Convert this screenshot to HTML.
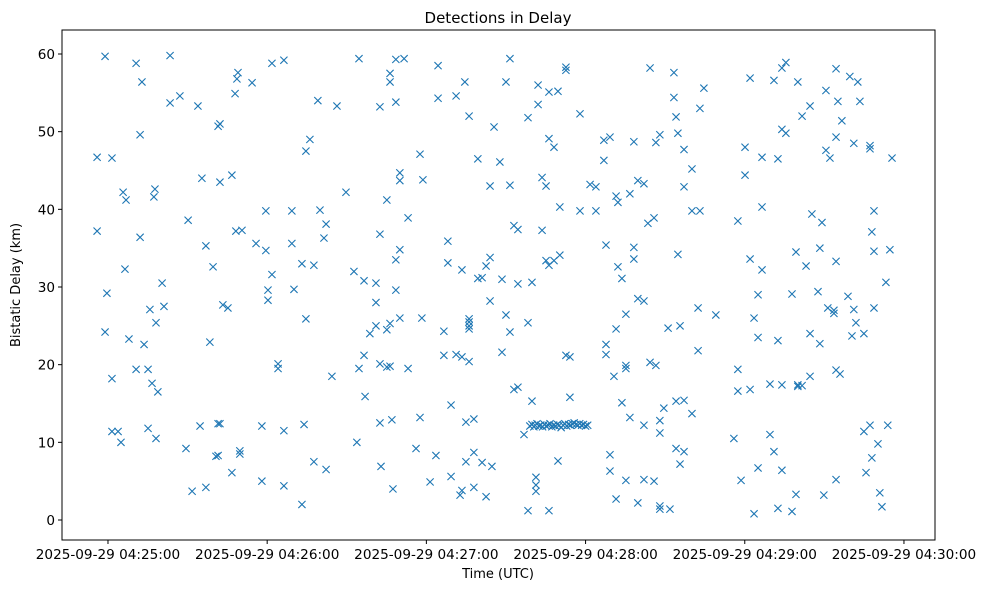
<!DOCTYPE html>
<html><head><meta charset="utf-8"><style>
body{margin:0;background:#fff;}
svg text{font-family:"DejaVu Sans","Liberation Sans",sans-serif;fill:#000;}
</style></head><body>
<svg id="chart" width="986" height="590" xmlns="http://www.w3.org/2000/svg">
<text x="498" y="23" font-size="15" text-anchor="middle">Detections in Delay</text>
<rect x="62" y="30" width="873" height="510" fill="none" stroke="#000" stroke-width="1"/>
<g id="marks"></g>
<g id="xaxis"></g>
<g id="yaxis"></g>
<text x="498" y="578" font-size="13" text-anchor="middle">Time (UTC)</text>
<text transform="translate(20,285) rotate(-90)" font-size="13" text-anchor="middle">Bistatic Delay (km)</text>
</svg>
<script>
// seconds after 2025-09-29 04:25:00 UTC
const times = [-4.1,-4.1,-1.1,-1.1,-0.4,1.5,1.5,1.5,3.8,4.9,5.7,6.8,6.4,7.9,10.6,10.6,12.1,12.1,12.8,13.6,15.1,15.1,15.8,16.6,17.3,17.7,18.1,18.1,18.8,20.4,21.1,23.4,23.4,27.1,29.4,30.2,31.7,33.9,34.7,35.4,36.9,36.9,38.4,39.6,40.7,41.5,41.5,42.2,42.2,41.5,42.2,43.3,45.2,46.7,46.7,47.9,48.2,48.6,49.0,49.7,49.7,50.5,54.3,55.8,58.0,58.0,59.5,59.5,60.3,60.3,61.8,61.8,64.1,64.1,66.3,66.3,66.3,69.3,69.3,70.1,73.1,73.1,73.9,74.6,74.6,76.1,77.6,77.6,79.1,79.9,81.4,82.2,82.2,84.4,86.3,89.7,92.7,93.8,94.6,94.6,96.5,96.5,96.9,98.7,101.0,101.0,101.0,102.5,102.5,102.5,102.9,102.5,105.1,105.1,105.1,106.3,106.3,106.3,106.3,107.0,107.4,108.5,108.5,108.5,108.5,110.0,110.0,110.0,110.0,111.6,113.1,113.1,116.1,117.6,117.6,118.7,118.3,121.4,123.6,124.4,124.4,126.6,126.6,128.1,128.1,129.3,129.3,131.2,131.2,132.7,133.4,133.4,134.5,133.4,134.9,134.9,136.1,136.1,136.1,136.1,136.1,136.1,137.9,137.9,137.9,139.4,139.4,141.0,141.0,142.5,142.5,144.0,144.0,144.0,144.7,145.5,147.7,148.5,148.5,150.0,150.0,151.5,151.5,151.5,153.0,153.0,154.5,154.5,154.5,156.8,158.3,158.3,158.3,159.8,159.8,161.3,161.3,161.3,162.1,162.1,163.6,163.6,165.1,165.1,166.2,166.2,166.2,166.2,168.1,168.1,169.6,169.6,170.3,170.3,172.6,172.6,172.6,174.1,174.1,177.9,177.9,181.7,183.9,183.9,186.9,186.9,187.7,187.7,187.7,189.2,189.2,190.7,189.2,191.5,191.5,191.5,192.2,192.2,193.7,193.7,195.2,195.2,195.2,195.2,196.7,196.7,198.2,198.2,198.2,199.7,199.7,199.7,202.0,202.0,202.0,202.0,203.5,204.3,204.3,205.8,205.8,206.5,206.5,208.0,208.0,208.0,208.0,208.0,209.5,211.1,211.8,213.3,213.3,214.1,214.1,214.1,214.8,214.8,215.6,215.6,217.1,217.1,217.1,217.1,220.1,220.1,220.1,222.4,222.4,223.1,223.1,224.6,229.1,235.9,237.4,237.4,237.4,238.6,240.1,240.1,242.0,242.0,242.0,243.5,243.5,245.0,245.0,245.0,246.5,246.5,246.5,249.5,249.5,251.0,251.0,252.5,252.5,252.5,254.0,254.0,254.0,254.0,255.5,255.5,257.8,257.8,259.3,259.3,260.0,260.0,260.0,261.6,261.6,263.1,264.6,264.6,264.6,265.3,267.6,268.3,268.3,269.1,269.8,270.6,270.6,271.3,272.1,273.6,273.6,274.4,274.4,274.4,274.4,274.4,275.1,275.9,276.6,278.9,279.6,280.4,281.1,281.1,281.9,282.6,283.4,284.9,285.7,284.9,287.2,287.2,287.2,287.9,287.9,288.7,288.7,288.7,290.2,290.9,291.7,293.2,293.9,294.7,295.5,
159.0,159.8,160.5,161.0,161.7,162.4,163.0,163.8,164.5,165.2,165.9,166.6,167.3,168.0,168.7,169.4,170.1,170.8,171.5,172.2,172.9,173.6,174.3,175.0,175.7,176.4,177.1,177.8,178.5,179.2,180.0,180.8];
const delays = [46.7,37.2,59.7,24.2,29.2,46.6,18.2,11.4,11.4,10.0,42.2,41.2,32.3,23.3,58.8,19.4,49.6,36.4,56.4,22.6,11.8,19.4,27.1,17.6,41.6,42.6,25.4,10.5,16.5,30.5,27.5,59.8,53.7,54.6,9.2,38.6,3.7,53.3,12.1,44.0,35.3,4.2,22.9,32.6,8.2,12.4,50.7,51.0,43.5,8.3,12.4,27.7,27.3,44.4,6.1,54.9,37.2,56.8,57.6,8.5,8.9,37.3,56.3,35.6,5.0,12.1,34.7,39.8,28.3,29.6,31.6,58.8,20.1,19.5,59.2,11.5,4.4,35.6,39.8,29.7,33.0,2.0,12.3,25.9,47.5,49.0,7.5,32.8,54.0,39.9,36.3,38.1,6.5,18.5,53.3,42.2,32.0,10.0,59.4,19.5,30.8,21.2,15.9,24.0,30.5,28.0,25.0,36.8,12.5,53.2,6.9,20.1,41.2,19.7,24.5,57.5,56.4,25.3,19.8,12.9,4.0,53.8,29.6,33.5,59.3,44.7,43.7,26.0,34.8,59.4,19.5,38.9,9.2,13.2,47.1,43.8,26.0,4.9,8.3,54.3,58.5,24.3,21.2,35.9,33.1,14.8,5.6,54.6,21.3,3.2,21.0,32.2,56.4,3.8,7.5,12.6,52.0,25.9,25.0,24.6,20.4,25.5,8.7,4.2,13.0,46.5,31.1,31.2,7.4,3.0,32.7,28.2,33.8,43.0,6.9,50.6,46.1,31.0,21.6,56.4,26.4,59.4,43.1,24.2,16.8,37.9,37.4,17.1,30.4,11.0,51.8,1.2,25.4,30.6,15.3,3.7,4.5,5.5,53.5,56.0,37.3,44.1,43.0,33.4,55.1,49.1,32.8,1.2,48.0,33.4,55.2,7.6,40.3,34.1,58.3,57.9,21.2,21.0,15.8,52.3,39.8,43.2,42.9,39.8,46.3,48.9,22.6,21.3,35.4,49.3,6.3,18.5,8.4,2.7,24.6,41.7,40.9,32.6,31.1,15.1,5.1,19.5,19.9,26.5,42.0,13.2,48.7,33.6,35.1,2.2,28.5,43.7,43.3,5.2,12.2,28.2,38.2,20.3,58.2,5.0,38.9,48.6,19.9,1.8,1.4,11.2,12.8,49.6,14.4,24.7,1.4,57.6,54.4,15.3,51.9,9.2,34.2,49.8,7.2,25.0,8.8,47.7,15.4,42.9,13.7,45.2,39.8,27.3,21.8,39.8,53.0,55.6,26.4,10.5,16.6,38.5,19.4,5.1,48.0,44.4,56.9,33.6,16.8,26.0,0.8,6.7,23.5,29.0,32.2,46.7,40.3,17.5,11.0,56.6,8.8,1.5,46.5,23.1,50.3,58.2,6.4,17.4,49.8,58.9,1.1,29.1,34.5,3.3,17.2,17.4,56.4,52.0,17.3,32.7,18.5,53.3,24.0,39.4,29.4,35.0,22.7,38.3,3.2,47.6,55.3,27.3,46.6,26.6,27.0,49.3,58.1,33.3,19.3,5.2,53.9,18.8,51.4,28.8,57.1,23.7,27.1,48.5,25.4,56.4,53.9,24.0,6.1,11.4,47.8,48.2,12.2,8.0,37.1,39.8,27.3,34.6,9.8,3.5,1.7,30.6,12.2,34.8,46.6,
12.1,12.3,12.0,12.2,12.4,12.1,12.2,12.0,12.3,12.1,12.2,12.4,12.0,12.2,12.1,12.3,12.2,11.9,12.2,12.4,12.1,12.3,12.2,12.4,12.5,12.3,12.2,12.4,12.2,12.3,12.1,12.2];
const xTickSecs = [0,60,120,180,240,300];
const xTickLabels = ["2025-09-29 04:25:00","2025-09-29 04:26:00","2025-09-29 04:27:00","2025-09-29 04:28:00","2025-09-29 04:29:00","2025-09-29 04:30:00"];
const yTicks = [0,10,20,30,40,50,60];

const NS="http://www.w3.org/2000/svg";
const x0=-17.33, x1=311.7, y0=-2.575, y1=63.09;
const L=62,R=935,T=30,B=540;
function xs(s){return L+(s-x0)/(x1-x0)*(R-L);}
function ys(v){return B-(v-y0)/(y1-y0)*(B-T);}
const marks=document.getElementById('marks');
const n=Math.min(times.length,delays.length);
for(let i=0;i<n;i++){
  const cx=xs(times[i]), cy=ys(delays[i]), r=3.6;
  const p=document.createElementNS(NS,'path');
  p.setAttribute('d',`M${cx-r},${cy-r}L${cx+r},${cy+r}M${cx-r},${cy+r}L${cx+r},${cy-r}`);
  p.setAttribute('stroke','#1f77b4');p.setAttribute('stroke-width','1.1');p.setAttribute('fill','none');
  
  
  marks.appendChild(p);
}
const xa=document.getElementById('xaxis');
xTickSecs.forEach((s,i)=>{
  const x=xs(s);
  const l=document.createElementNS(NS,'line');
  l.setAttribute('x1',x);l.setAttribute('x2',x);l.setAttribute('y1',B);l.setAttribute('y2',B+4);l.setAttribute('stroke','#000');
  
  
  xa.appendChild(l);
  const t=document.createElementNS(NS,'text');
  t.setAttribute('x',x);t.setAttribute('y',B+19);t.setAttribute('text-anchor','middle');t.setAttribute('font-size','13.6');
  t.textContent=xTickLabels[i];
  
  
  xa.appendChild(t);
});
const ya=document.getElementById('yaxis');
yTicks.forEach(v=>{
  const y=ys(v);
  const l=document.createElementNS(NS,'line');
  l.setAttribute('x1',L-4);l.setAttribute('x2',L);l.setAttribute('y1',y);l.setAttribute('y2',y);l.setAttribute('stroke','#000');
  
  
  ya.appendChild(l);
  const t=document.createElementNS(NS,'text');
  t.setAttribute('x',L-7);t.setAttribute('y',y+5);t.setAttribute('text-anchor','end');t.setAttribute('font-size','13.6');
  t.textContent=v;
  
  
  ya.appendChild(t);
});
</script>
</body></html>
